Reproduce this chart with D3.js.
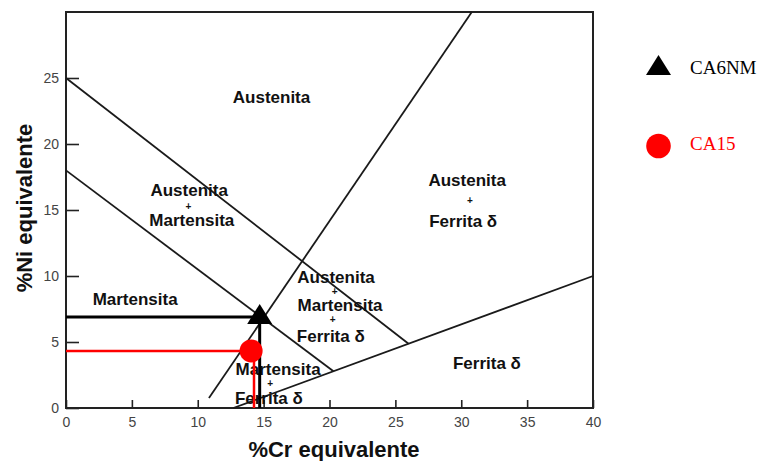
<!DOCTYPE html>
<html>
<head>
<meta charset="utf-8">
<script src="https://cdn.jsdelivr.net/npm/d3@7"></script>
<style>
  html, body { margin: 0; padding: 0; background: #fff; }
  svg { display: block; }
</style>
</head>
<body>
<svg id="chart" width="760" height="461"></svg>
<script>
// ---- data ----
const xTicks = [0, 5, 10, 15, 20, 25, 30, 35, 40];
const yTicks = [0, 5, 10, 15, 20, 25];
const xDomain = [0, 40];
const yDomain = [0, 30];

// phase boundaries (Schaeffler-type diagram), start and end points in %Cr eq / %Ni eq
const boundaryStart = [[0, 25], [0, 18], [12.7, 0], [10.85, 0.75]];
const boundaryEnd   = [[26, 4.87], [20.3, 2.78], [40, 10], [30.8, 30]];

// region labels: text and data position
const labelTexts = ["Austenita",
  "Austenita", "+", "Martensita",
  "Austenita", "+", "Ferrita δ",
  "Austenita", "+", "Martensita", "+", "Ferrita δ",
  "Martensita",
  "Martensita", "+", "Ferrita δ",
  "Ferrita δ"];
const labelX = [15.6,
  9.35, 9.3, 9.55,
  30.45, 30.65, 30.15,
  20.5, 20.4, 20.8, 20.25, 20.1,
  5.25,
  16.1, 15.5, 15.4,
  31.95];
const labelY = [23.5,
  16.5, 15.3, 14.2,
  17.2, 15.7, 14.1,
  9.85, 8.8, 7.75, 6.7, 5.45,
  8.2,
  2.95, 1.85, 0.7,
  3.4];

// steels
const steelNames = ["CA6NM", "CA15"];
const steelCr = [14.7, 14.05];
const steelNi = [6.9, 4.32];
const guideCr = [14.7, 14.27];
const steelColors = ["#000000", "#ff0000"];

const xTitle = "%Cr equivalente";
const yTitle = "%Ni equivalente";

// ---- chart ----
const svg = d3.select("#chart");
const x = d3.scaleLinear().domain(xDomain).range([66, 593]);
const y = d3.scaleLinear().domain(yDomain).range([408, 12]);

// axes (ticks inward)
const gx = svg.append("g").attr("transform", `translate(0,${y(0)})`)
  .call(d3.axisBottom(x).tickValues(xTicks).tickSizeInner(-8).tickSizeOuter(0).tickPadding(9));
const gy = svg.append("g").attr("transform", `translate(${x(0)},0)`)
  .call(d3.axisLeft(y).tickValues(yTicks).tickSizeInner(-13).tickSizeOuter(0).tickPadding(7));
[gx, gy].forEach(g => {
  g.select(".domain").remove();
  g.selectAll(".tick line").attr("stroke", "#222").attr("stroke-width", 1.6);
  g.selectAll(".tick text").attr("fill", "#444").attr("font-size", 14)
    .attr("font-family", "Liberation Sans, Arial, sans-serif");
});

// frame
svg.append("rect").attr("x", x(0)).attr("y", y(30))
  .attr("width", x(40) - x(0)).attr("height", y(0) - y(30))
  .attr("fill", "none").attr("stroke", "#222").attr("stroke-width", 2);

// boundaries
svg.append("g").selectAll("line").data(boundaryStart).join("line")
  .attr("x1", d => x(d[0])).attr("y1", d => y(d[1]))
  .attr("x2", (d, i) => x(boundaryEnd[i][0])).attr("y2", (d, i) => y(boundaryEnd[i][1]))
  .attr("stroke", "#1a1a1a").attr("stroke-width", 1.8);

// labels
svg.append("g").selectAll("text").data(labelTexts).join("text")
  .attr("x", (d, i) => x(labelX[i])).attr("y", (d, i) => y(labelY[i]))
  .attr("text-anchor", "middle").attr("dominant-baseline", "central")
  .attr("font-family", "Liberation Sans, Arial, sans-serif")
  .attr("font-weight", "bold")
  .attr("font-size", d => d === "+" ? 10 : 17)
  .attr("fill", "#111")
  .text(d => d);

// guide lines
const guides = svg.append("g");
steelNames.forEach((n, i) => {
  guides.append("line").attr("x1", x(0)).attr("x2", x(steelCr[i]))
    .attr("y1", y(steelNi[i])).attr("y2", y(steelNi[i]))
    .attr("stroke", steelColors[i]).attr("stroke-width", i === 0 ? 3 : 2.5);
  guides.append("line").attr("x1", x(guideCr[i])).attr("x2", x(guideCr[i]))
    .attr("y1", y(steelNi[i])).attr("y2", y(0))
    .attr("stroke", steelColors[i]).attr("stroke-width", i === 0 ? 3 : 2.5);
});

function tri(cx, cy) {
  return `M${cx},${cy - 13}L${cx + 12.5},${cy + 7}L${cx - 12.5},${cy + 7}Z`;
}
// markers
steelNames.forEach((n, i) => {
  if (i === 0) {
    svg.append("path").attr("d", tri(x(steelCr[i]), y(steelNi[i]))).attr("fill", steelColors[i]);
  } else {
    svg.append("circle").attr("cx", x(steelCr[i])).attr("cy", y(steelNi[i])).attr("r", 11.5)
      .attr("fill", steelColors[i]);
  }
});

// legend
const legY = [68, 146];
const lg = svg.append("g");
steelNames.forEach((n, i) => {
  if (i === 0) {
    lg.append("path").attr("d", tri(658.5, legY[i])).attr("fill", steelColors[i]);
  } else {
    lg.append("circle").attr("cx", 658.5).attr("cy", legY[i]).attr("r", 12.3).attr("fill", steelColors[i]);
  }
  lg.append("text").attr("x", 690).attr("y", legY[i] + (i === 0 ? 6 : 4))
    .attr("font-family", "Liberation Serif, Times New Roman, serif")
    .attr("font-size", 19).attr("fill", steelColors[i]).text(n);
});

// axis titles
svg.append("text").attr("x", 334).attr("y", 457).attr("text-anchor", "middle")
  .attr("font-family", "Liberation Sans, Arial, sans-serif").attr("font-weight", "bold")
  .attr("font-size", 22).attr("fill", "#111").text(xTitle);
svg.append("text").attr("transform", "translate(32,208) rotate(-90)").attr("text-anchor", "middle")
  .attr("font-family", "Liberation Sans, Arial, sans-serif").attr("font-weight", "bold")
  .attr("font-size", 22).attr("fill", "#111").text(yTitle);
</script>
</body>
</html>
